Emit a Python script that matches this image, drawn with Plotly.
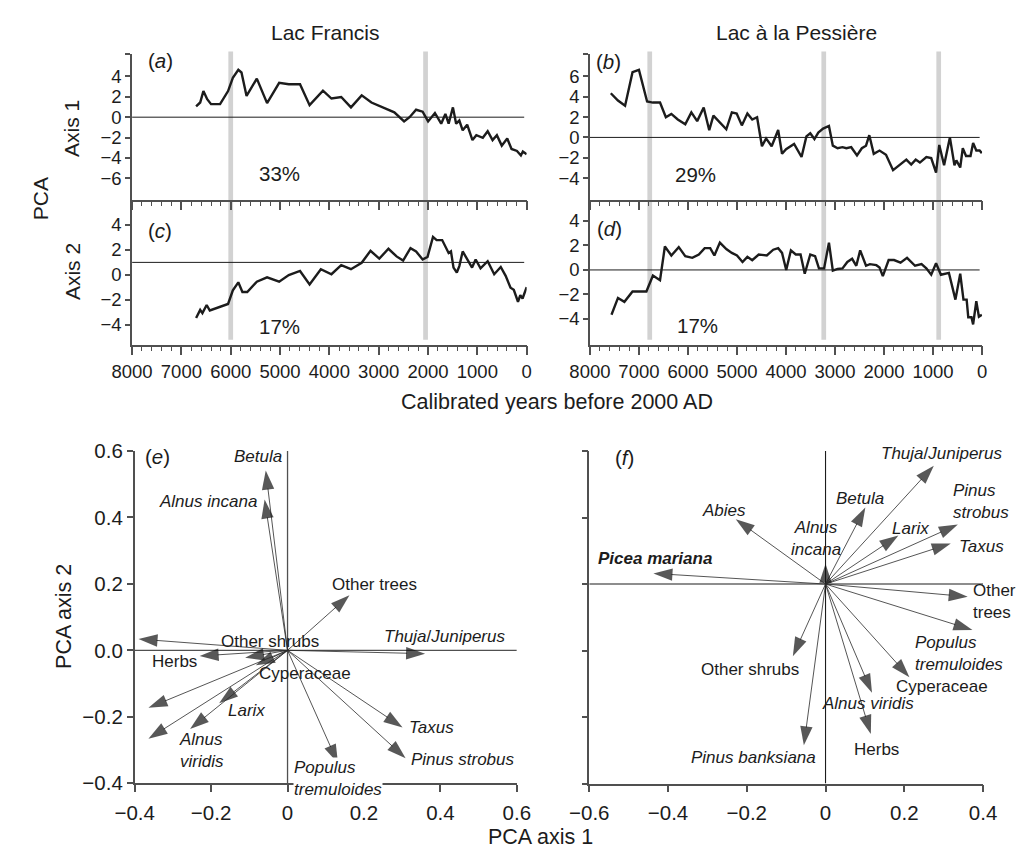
import plotly.graph_objects as go

W, H = 1027, 865
FONT = "Liberation Sans, Arial, Helvetica, sans-serif"
INK = "#1c1c1c"
AXIS = "#505050"
BAND = "#d2d2d2"

# ---------------- data ----------------
# Lac Francis, PCA axis 1 sample scores (calibrated years before 2000 AD)
FRANCIS_YEARS_AX1 = [6702, 6619, 6554, 6477, 6399, 6216, 6054, 5957, 5846, 5782,
                     5679, 5471, 5263, 5018, 4823, 4595, 4401, 4130, 3958, 3760,
                     3562, 3345, 3147, 2683, 2485, 2374, 2242, 2109, 1998, 1860,
                     1733, 1648, 1582, 1495, 1430, 1365, 1297, 1206, 1099, 1020,
                     889, 790, 691, 604, 505, 394, 307, 196, 117, 77, 0]
FRANCIS_AX1 = [1.06, 1.44, 2.56, 1.76, 1.28, 1.28, 2.56, 3.85, 4.64, 4.38,
               2.08, 3.78, 1.38, 3.37, 3.23, 3.23, 1.18, 2.6, 1.83, 1.98,
               0.96, 2.14, 1.44, 0.48, -0.42, 0.0, 0.73, 0.54, -0.42, 0.41,
               -0.64, 0.32, -0.64, 0.96, -0.64, -0.33, -1.29, -0.74, -2.25, -1.77,
               -2.02, -1.38, -2.25, -1.77, -2.79, -2.09, -3.12, -3.31, -3.75, -3.37, -3.63]

# Lac Francis, PCA axis 2
FRANCIS_YEARS_AX2 = [6702, 6619, 6574, 6488, 6424, 6216, 6054, 5957, 5846, 5763,
                     5665, 5471, 5263, 5018, 4823, 4595, 4401, 4173, 3958, 3760,
                     3562, 3345, 3166, 2988, 2802, 2638, 2505, 2355, 2242, 2109,
                     2010, 1899, 1826, 1713, 1582, 1535, 1483, 1416, 1365, 1297,
                     1218, 1172, 1107, 1034, 935, 790, 658, 525, 426, 327,
                     261, 176, 129, 83, 0]
FRANCIS_AX2 = [-3.46, -2.81, -3.07, -2.42, -2.86, -2.55, -2.34, -1.25, -0.6, -1.38,
               -1.38, -0.55, -0.2, -0.55, -0.02, 0.31, -0.78, 0.45, 0.05, 0.78,
               0.45, 0.97, 1.93, 1.3, 2.09, 1.48, 1.15, 2.14, 1.88, 1.23,
               1.44, 3.05, 2.79, 2.79, 1.75, 1.88, 0.58, 0.19, 0.7, 1.88,
               1.36, 1.09, 0.58, 1.23, 0.52, 1.09, 0.05, 0.63, -0.08, -1.04,
               -1.2, -2.16, -1.64, -1.9, -0.98]

# Lac à la Pessière, PCA axis 1
PESSIERE_YEARS_AX1 = [7574, 7428, 7283, 7131, 7000, 6834, 6715, 6570, 6451, 6339,
                      6208, 6055, 5931, 5812, 5679, 5566, 5481, 5218, 5105, 5006,
                      4901, 4788, 4689, 4590, 4491, 4406, 4293, 4160, 4081, 3999,
                      3835, 3683, 3584, 3505, 3420, 3341, 3243, 3124, 3045, 2947,
                      2848, 2769, 2670, 2552, 2453, 2368, 2301, 2210, 2092, 1960,
                      1816, 1683, 1545, 1446, 1354, 1269, 1137, 1038, 939, 874,
                      775, 657, 564, 525, 446, 394, 327, 236, 183, 118, 51, 5]
PESSIERE_AX1 = [4.33, 3.62, 3.11, 6.4, 6.63, 3.52, 3.42, 3.42, 1.98, 2.31,
                1.76, 1.28, 2.46, 1.6, 2.94, 0.7, 2.14, 0.8, 2.46, 2.34,
                1.18, 2.34, 1.76, 1.98, -0.87, -0.1, -0.87, 0.73, -1.61, -1.15,
                -0.64, -1.92, 0.1, 0.41, -0.16, 0.48, 0.87, 1.12, -0.81, -1.06,
                -0.96, -1.06, -0.96, -1.77, -1.06, -0.81, 0.22, -1.61, -1.29, -1.7,
                -3.21, -2.73, -2.18, -2.66, -2.18, -2.47, -1.92, -2.02, -3.46, -0.74,
                -2.73, 0.0, -2.73, -2.25, -2.95, -1.06, -1.83, -1.83, -0.55, -1.29, -1.29, -1.54]

# Lac à la Pessière, PCA axis 2
PESSIERE_YEARS_AX2 = [7560, 7428, 7297, 7131, 7000, 6848, 6715, 6570, 6471, 6339,
                      6188, 6055, 5911, 5778, 5659, 5546, 5461, 5349, 5218, 5105,
                      5000, 4887, 4788, 4689, 4557, 4392, 4260, 4160, 4081, 3996,
                      3900, 3801, 3703, 3618, 3505, 3407, 3328, 3223, 3124, 3045,
                      2947, 2848, 2749, 2651, 2566, 2487, 2368, 2289, 2157, 2092,
                      2025, 1906, 1796, 1664, 1531, 1368, 1235, 1137, 1038, 939,
                      840, 677, 544, 446, 380, 315, 282, 217, 183, 118, 65, 5]
PESSIERE_AX2 = [-3.65, -2.28, -2.6, -1.76, -1.76, -1.76, -0.45, -0.84, 1.91, 1.18,
                1.86, 1.13, 0.99, 1.26, 1.78, 1.78, 1.18, 2.23, 1.7, 1.39,
                1.18, 0.65, 1.07, 0.79, 1.26, 1.18, 1.65, 1.78, 1.39, 0.0,
                1.6, 1.26, 1.26, -0.31, 1.26, 1.13, 0.13, 0.13, 2.23, -0.06,
                0.08, 0.13, 0.65, 0.91, 0.34, 1.6, 0.34, 0.47, 0.39, 0.2,
                -0.5, 0.81, 0.81, 0.6, 0.99, 0.34, 0.47, 0.13, -0.39, 0.55,
                -0.39, -0.24, -2.42, -0.31, -2.42, -2.42, -3.86, -3.86, -4.44, -2.55, -3.81, -3.65]

# Zone boundaries (years) and explained variance per axis
FRANCIS_ZONES = [6000, 2050]
PESSIERE_ZONES = [6780, 3230, 885]
FRANCIS_VARIANCE = ["33%", "17%"]
PESSIERE_VARIANCE = ["29%", "17%"]
YEAR_TICKS = [8000, 7000, 6000, 5000, 4000, 3000, 2000, 1000, 0]

# Taxon loadings, Lac Francis
FRANCIS_TAXA = ["Betula", "Alnus incana", "Other trees", "Picea mariana", "Herbs",
                "Other shrubs", "Cyperaceae", "Abies", "Pinus banksiana", "Larix",
                "Alnus viridis", "Thuja/Juniperus", "Taxus", "Pinus strobus",
                "Populus tremuloides"]
FRANCIS_LOAD1 = [-0.057, -0.060, 0.162, -0.390, -0.230, -0.111, -0.083, -0.364,
                 -0.364, -0.179, -0.255, 0.360, 0.301, 0.309, 0.132]
FRANCIS_LOAD2 = [0.541, 0.454, 0.166, 0.034, -0.017, -0.022, -0.045, -0.173,
                 -0.266, -0.159, -0.237, -0.010, -0.232, -0.325, -0.340]

# Taxon loadings, Lac à la Pessière
PESSIERE_TAXA = ["Thuja/Juniperus", "Pinus strobus", "Taxus", "Larix", "Betula",
                 "Alnus incana", "Abies", "Picea mariana", "Other trees",
                 "Populus tremuloides", "Cyperaceae", "Alnus viridis", "Herbs",
                 "Pinus banksiana", "Other shrubs"]
PESSIERE_LOAD1 = [0.275, 0.336, 0.318, 0.185, 0.101, 0.0, -0.228, -0.437, 0.361,
                  0.373, 0.213, 0.118, 0.115, -0.055, -0.083]
PESSIERE_LOAD2 = [0.356, 0.179, 0.122, 0.146, 0.230, 0.061, 0.195, 0.032, -0.038,
                  -0.138, -0.280, -0.327, -0.451, -0.485, -0.217]

# ---------------- label placement (text, x, y, anchor) ----------------
FRANCIS_LABELS = {
    "Betula": ("<i>Betula</i>", -0.008, 0.583, "right"),
    "Alnus incana": ("<i>Alnus incana</i>", -0.074, 0.447, "right"),
    "Other trees": ("Other trees", 0.11, 0.198, "left"),
    "Picea mariana": ("<b><i>Picea mariana</i></b>", -0.466, 0.087, "left"),
    "Other shrubs": ("Other shrubs", -0.179, 0.027, "left"),
    "Thuja/Juniperus": ("<i>Thuja</i>/<i>Juniperus</i>", 0.246, 0.041, "left"),
    "Herbs": ("Herbs", -0.36, -0.035, "left"),
    "Cyperaceae": ("Cyperaceae", -0.08, -0.071, "left"),
    "Abies": ("<i>Abies</i>", -0.438, -0.11, "left"),
    "Larix": ("<i>Larix</i>", -0.161, -0.18, "left"),
    "Taxus": ("<i>Taxus</i>", 0.312, -0.232, "left"),
    "Pinus banksiana": ("<i>Pinus</i><br><i>banks.</i>", -0.482, -0.286, "left"),
    "Alnus viridis": ("<i>Alnus</i><br><i>viridis</i>", -0.29, -0.30, "left"),
    "Pinus strobus": ("<i>Pinus strobus</i>", 0.318, -0.33, "left"),
    "Populus tremuloides": ("<i>Populus</i><br><i>tremuloides</i>", 0.015, -0.386, "left"),
}
PESSIERE_LABELS = {
    "Thuja/Juniperus": ("<i>Thuja</i>/<i>Juniperus</i>", 0.136, 0.393, "left"),
    "Pinus strobus": ("<i>Pinus</i><br><i>strobus</i>", 0.318, 0.249, "left"),
    "Taxus": ("<i>Taxus</i>", 0.334, 0.112, "left"),
    "Larix": ("<i>Larix</i>", 0.164, 0.167, "left"),
    "Betula": ("<i>Betula</i>", 0.021, 0.257, "left"),
    "Alnus incana": ("<i>Alnus</i><br><i>incana</i>", -0.023, 0.136, "center"),
    "Abies": ("<i>Abies</i>", -0.318, 0.222, "left"),
    "Picea mariana": ("<b><i>Picea mariana</i></b>", -0.584, 0.076, "left"),
    "Other trees": ("Other<br>trees", 0.37, -0.052, "left"),
    "Populus tremuloides": ("<i>Populus</i><br><i>tremuloides</i>", 0.221, -0.208, "left"),
    "Cyperaceae": ("Cyperaceae", 0.174, -0.309, "left"),
    "Alnus viridis": ("<i>Alnus viridis</i>", -0.015, -0.358, "left"),
    "Herbs": ("Herbs", 0.066, -0.496, "left"),
    "Pinus banksiana": ("<i>Pinus banksiana</i>", -0.347, -0.521, "left"),
    "Other shrubs": ("Other shrubs", -0.322, -0.256, "left"),
}


def xdom(left, right):
    return [left / W, right / W]


def ydom(top, bottom):
    return [1 - bottom / H, 1 - top / H]


fig = go.Figure()

# ---------------- time series ----------------
series = [
    (FRANCIS_YEARS_AX1, FRANCIS_AX1, "x", "y"),
    (PESSIERE_YEARS_AX1, PESSIERE_AX1, "x2", "y2"),
    (FRANCIS_YEARS_AX2, FRANCIS_AX2, "x3", "y3"),
    (PESSIERE_YEARS_AX2, PESSIERE_AX2, "x4", "y4"),
]
for xs, ys, xa, ya in series:
    fig.add_trace(go.Scatter(x=xs, y=ys, mode="lines", xaxis=xa, yaxis=ya,
                             line=dict(color=INK, width=2.4), showlegend=False,
                             hoverinfo="skip"))

# ---------------- loading vectors (line from origin, arrow marker at tip) ----------------
for l1, l2, xa, ya in [
    (FRANCIS_LOAD1, FRANCIS_LOAD2, "x5", "y5"),
    (PESSIERE_LOAD1, PESSIERE_LOAD2, "x6", "y6"),
]:
    for a1, a2 in zip(l1, l2):
        fig.add_trace(go.Scatter(
            x=[0, a1], y=[0, a2], mode="lines+markers", xaxis=xa, yaxis=ya,
            line=dict(color="#2a2a2a", width=0.8),
            marker=dict(symbol="arrow", size=[0, 20], angleref="previous",
                        color="#111111", line=dict(width=0)),
            cliponaxis=False, showlegend=False, hoverinfo="skip"))

shapes = []
band_top, band_bottom = 1 - 40.7 / H, 1 - 336.7 / H
for yr in FRANCIS_ZONES:
    shapes.append(dict(type="rect", xref="x", yref="paper", x0=yr + 48, x1=yr - 48,
                       y0=band_bottom, y1=band_top, fillcolor=BAND, line_width=0,
                       layer="below"))
for yr in PESSIERE_ZONES:
    shapes.append(dict(type="rect", xref="x2", yref="paper", x0=yr + 48, x1=yr - 48,
                       y0=band_bottom, y1=band_top, fillcolor=BAND, line_width=0,
                       layer="below"))

for xa, ya, level in [("x", "y", 0), ("x2", "y2", 0), ("x3", "y3", 1), ("x4", "y4", 0)]:
    shapes.append(dict(type="line", xref=xa, yref=ya, x0=8000, x1=50, y0=level, y1=level,
                       line=dict(color=INK, width=1)))

# ---------------- biplot reference lines ----------------
shapes += [
    dict(type="line", xref="x5", yref="y5", x0=0, x1=0, y0=-0.4, y1=0.6,
         line=dict(color=AXIS, width=1.3), layer="below"),
    dict(type="line", xref="x5", yref="y5", x0=-0.4, x1=0.6, y0=0, y1=0,
         line=dict(color=AXIS, width=1.3), layer="below"),
    dict(type="line", xref="x6", yref="y6", x0=0, x1=0, y0=-0.6, y1=0.4,
         line=dict(color=INK, width=1.1), layer="below"),
    dict(type="line", xref="x6", yref="y6", x0=-0.6, x1=0.4, y0=0, y1=0,
         line=dict(color=INK, width=1.1), layer="below"),
]

# ---------------- axes ----------------
base = dict(showline=True, linecolor=AXIS, linewidth=1.5, ticks="outside",
            tickcolor=AXIS, tickwidth=1.5, ticklen=5, showgrid=False, zeroline=False,
            tickfont=dict(family=FONT, size=18.5, color=INK), fixedrange=True)


def year_axis(domain, anchor, labels):
    return dict(base, domain=domain, anchor=anchor, range=[8000, 0],
                tickmode="array", tickvals=YEAR_TICKS,
                ticktext=[str(v) for v in YEAR_TICKS], ticklen=9,
                showticklabels=labels,
                minor=dict(tickmode="linear", tick0=0, dtick=200, ticks="outside",
                           ticklen=5, tickcolor=AXIS, tickwidth=1.2, showgrid=False))


def value_axis(domain, anchor, rng, vals, top=None):
    tv = list(vals)
    tt = [("−%d" % -v) if v < 0 else "%d" % v for v in vals]
    if top is not None:
        tv.append(top)
        tt.append("")
    return dict(base, domain=domain, anchor=anchor, range=rng, tickmode="array",
                tickvals=tv, ticktext=tt)


def fmt(v, zero="0"):
    if abs(v) < 1e-9:
        return zero
    return ("−%.1f" % -v) if v < 0 else "%.1f" % v


left_x = xdom(115, 523.5)
right_x = xdom(589, 995)
top_y = ydom(43.3, 192.7)
mid_y = ydom(192.7, 341.7)

bx = [-0.4, -0.2, 0.0, 0.2, 0.4, 0.6]
fx = [-0.6, -0.4, -0.2, 0.0, 0.2, 0.4]
bfont = dict(family=FONT, size=20.5, color=INK)

fig.update_layout(
    xaxis=year_axis(left_x, "y", False),
    yaxis=value_axis(top_y, "x", [-8.08, 6.18], [-6, -4, -2, 0, 2, 4], 6.17),
    xaxis2=year_axis(right_x, "y2", False),
    yaxis2=value_axis(top_y, "x2", [-6.1, 8.17], [-4, -2, 0, 2, 4, 6], 8.16),
    xaxis3=year_axis(left_x, "y3", True),
    yaxis3=value_axis(mid_y, "x3", [-5.6, 6.04], [-4, -2, 0, 2, 4]),
    xaxis4=year_axis(right_x, "y4", True),
    yaxis4=value_axis(mid_y, "x4", [-6.09, 5.74], [-4, -2, 0, 2, 4]),
    xaxis5=dict(base, domain=xdom(117.7, 513.3), anchor="y5", range=[-0.4, 0.6],
                tickmode="array", tickvals=bx, ticktext=[fmt(v) for v in bx],
                ticklen=7, tickfont=bfont, ticklabelstandoff=3),
    yaxis5=dict(base, domain=ydom(451, 792.3), anchor="x5", range=[-0.4, 0.6],
                tickmode="array", tickvals=bx, ticktext=[fmt(v, "0.0") for v in bx],
                ticklen=6, tickfont=bfont),
    xaxis6=dict(base, domain=xdom(588.3, 996), anchor="y6", range=[-0.6, 0.4],
                tickmode="array", tickvals=fx, ticktext=[fmt(v) for v in fx],
                ticklen=7, tickfont=bfont, ticklabelstandoff=3),
    yaxis6=dict(base, domain=ydom(451, 792.7), anchor="x6", range=[-0.6, 0.4],
                tickmode="array", tickvals=fx, showticklabels=False, ticklen=6),
)

# ---------------- annotations ----------------
ann = []


def text(x, y, s, size=20.5, xref="paper", yref="paper", xanchor="center",
         angle=0, **kw):
    if xref == "paper":
        x = x / W
    if yref == "paper":
        y = 1 - y / H
    ann.append(dict(x=x, y=y, xref=xref, yref=yref, text=s, showarrow=False,
                    xanchor=xanchor, yanchor="middle", textangle=angle,
                    font=dict(family=FONT, size=size, color=INK), **kw))


text(315.5, 21, "Lac Francis", size=21)
text(802.7, 21, "Lac à la Pessière", size=21)
text(21, 192, "PCA", angle=-90, size=21)
text(53, 120, "Axis 1", angle=-90, size=21)
text(54, 267, "Axis 2", angle=-90, size=21)
text(555, 401, "Calibrated years before 2000 AD", size=21.5)
text(45, 621, "PCA axis 2", angle=-90, size=21.5)
text(538, 848, "PCA axis 1", size=21.5)

# panel letters
text(7722, 5.55, "(<i>a</i>)", xref="x", yref="y", xanchor="left")
text(7917, 7.48, "(<i>b</i>)", xref="x2", yref="y2", xanchor="left")
text(7722, 3.56, "(<i>c</i>)", xref="x3", yref="y3", xanchor="left")
text(7897, 3.38, "(<i>d</i>)", xref="x4", yref="y4", xanchor="left")
text(-0.377, 0.583, "(<i>e</i>)", xref="x5", yref="y5", xanchor="left")
text(-0.539, 0.379, "(<i>f</i>)", xref="x6", yref="y6", xanchor="left")

# explained variance
text(5471, -5.56, FRANCIS_VARIANCE[0], xref="x", yref="y", xanchor="left")
text(6299, -3.67, PESSIERE_VARIANCE[0], xref="x2", yref="y2", xanchor="left")
text(5471, -4.15, FRANCIS_VARIANCE[1], xref="x3", yref="y3", xanchor="left")
text(6273, -4.56, PESSIERE_VARIANCE[1], xref="x4", yref="y4", xanchor="left")

# taxon names
for taxa, labels, xa, ya in [
    (FRANCIS_TAXA, FRANCIS_LABELS, "x5", "y5"),
    (PESSIERE_TAXA, PESSIERE_LABELS, "x6", "y6"),
]:
    for name in taxa:
        label, lx, ly, anchor = labels[name]
        extra = {}
        if xa == "x5" and name == "Populus tremuloides":
            extra = dict(bgcolor="white", borderpad=0)
        text(lx, ly, label, size=17, xref=xa, yref=ya, xanchor=anchor,
             align=anchor, **extra)

fig.update_layout(
    annotations=ann,
    shapes=shapes,
    width=W, height=H,
    margin=dict(l=0, r=0, t=0, b=0),
    paper_bgcolor="white", plot_bgcolor="white",
    font=dict(family=FONT, color=INK),
    showlegend=False,
)

fig.write_html("out.html", config=dict(displayModeBar=False))
